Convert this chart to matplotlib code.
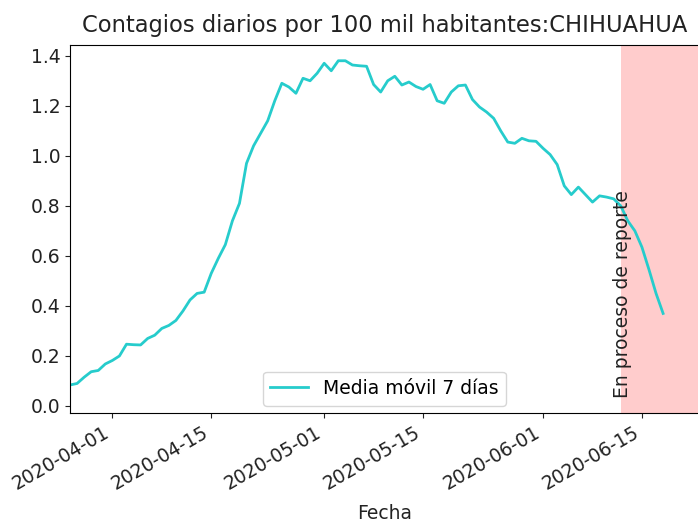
import matplotlib
matplotlib.use("Agg")
import matplotlib.pyplot as plt
import matplotlib.dates as mdates
import numpy as np
import pandas as pd

start_date = "2020-03-26"
values = [0.084, 0.09, 0.115, 0.137, 0.142, 0.168, 0.182, 0.20, 0.247, 0.245,
          0.244, 0.27, 0.283, 0.31, 0.322, 0.342, 0.38, 0.424, 0.45, 0.455,
          0.53, 0.59, 0.645, 0.74, 0.81, 0.97, 1.04, 1.09, 1.14, 1.22,
          1.29, 1.275, 1.25, 1.31, 1.30, 1.33, 1.37, 1.34, 1.38, 1.38,
          1.363, 1.36, 1.358, 1.285, 1.255, 1.30, 1.318, 1.283, 1.295, 1.277,
          1.266, 1.285, 1.22, 1.21, 1.255, 1.28, 1.283, 1.225, 1.195, 1.175,
          1.15, 1.10, 1.055, 1.05, 1.07, 1.06, 1.058, 1.03, 1.005, 0.965,
          0.88, 0.845, 0.875, 0.845, 0.815, 0.84, 0.835, 0.828, 0.80, 0.74,
          0.70, 0.635, 0.545, 0.45, 0.37]
dates = pd.date_range(start_date, periods=len(values), freq="D")

report_start = pd.Timestamp("2020-06-12")
x_end = pd.Timestamp("2020-06-23 02:00")
tick_dates = pd.to_datetime(["2020-04-01", "2020-04-15", "2020-05-01",
                             "2020-05-15", "2020-06-01", "2020-06-15"])
yticks = [0.0, 0.2, 0.4, 0.6, 0.8, 1.0, 1.2, 1.4]

fs = 13.5
fig = plt.figure(figsize=(6.98, 5.25), dpi=100)
ax = fig.add_axes([70/698, 112/525, 629/698, 368/525])

ax.plot(dates, values, color="#26cccc", lw=2, label="Media móvil 7 días")
ax.axvspan(report_start, x_end + pd.Timedelta(days=3), color="red", alpha=0.2, lw=0)
ax.text(report_start + pd.Timedelta(hours=6), 0.03, "En proceso de reporte",
        rotation=90, fontsize=fs, ha="center", va="bottom", color="#222222")

ax.set_xlim(dates[0], x_end)
ax.set_ylim(-0.028, 1.443)
ax.set_xticks(tick_dates)
ax.xaxis.set_major_formatter(mdates.DateFormatter("%Y-%m-%d"))
ax.set_yticks(yticks)
ax.set_yticklabels([f"{v:.1f}" for v in yticks])
ax.tick_params(labelsize=fs, colors="#222222")
for lab in ax.get_xticklabels():
    lab.set_rotation(30)
    lab.set_ha("right")
ax.set_xlabel("Fecha", fontsize=fs, color="#222222", labelpad=8)
ax.set_title("Contagios diarios por 100 mil habitantes:CHIHUAHUA", fontsize=16.3,
             color="#222222", pad=9)
ax.legend(loc="lower center", fontsize=fs, borderaxespad=0.4)

fig.savefig("out.png", dpi=100)
